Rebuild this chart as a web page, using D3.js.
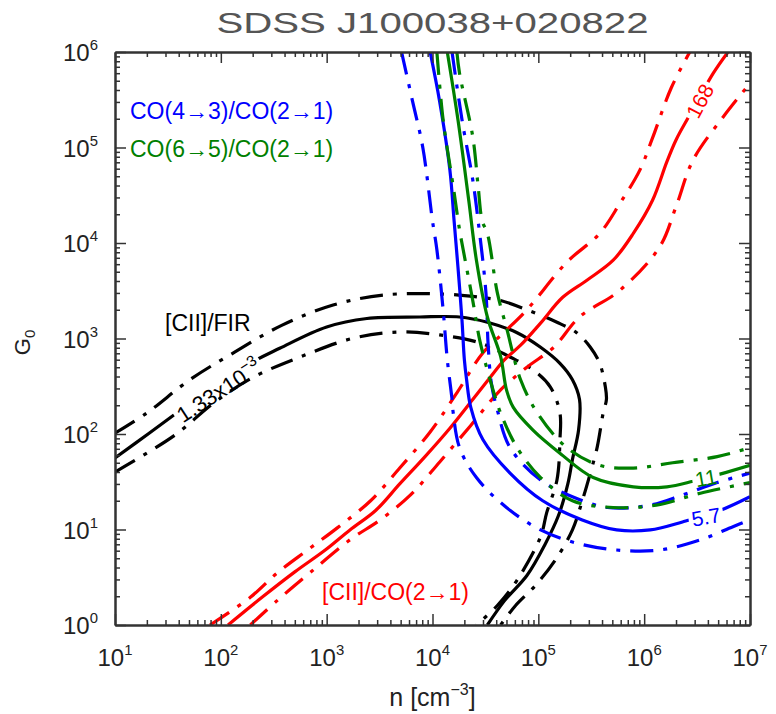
<!DOCTYPE html>
<html><head><meta charset="utf-8">
<script src="https://cdn.jsdelivr.net/npm/d3@7"></script>
<style>
body{margin:0;background:#fff}
svg{display:block}
text{font-family:"Liberation Sans",Arial,"DejaVu Sans",sans-serif}
</style>
</head><body>
<svg id="c" width="776" height="714"></svg>
<script>
// ---------- data ----------
const chartTitle = "SDSS J100038+020822";
const xTickValues = [1e1, 1e2, 1e3, 1e4, 1e5, 1e6, 1e7];
const xTickExponents = ["1", "2", "3", "4", "5", "6", "7"];
const yTickValues = [1e0, 1e1, 1e2, 1e3, 1e4, 1e5, 1e6];
const yTickExponents = ["0", "1", "2", "3", "4", "5", "6"];

// [CII]/FIR = 1.33e-3 contour (mid) and its +/- bounds : [n, G0]
const ciiFirMid = [[10,56],[21,102],[48,200],[130,440],[360,790],[1000,1320],[2400,1620],[7600,1680],[1.8e4,1680],[3.3e4,1480],[6.3e4,1150],[1.05e5,810],[1.6e5,550],[2.1e5,370],[2.45e5,230],[2.4e5,110],[2.1e5,54],[1.9e5,30],[1.55e5,14],[1.15e5,6.9],[7.8e4,3.3],[4.8e4,1.8],[3.3e4,1.0]];
const ciiFirHigh = [[10,102],[20,166],[51,370],[135,720],[380,1380],[1150,2240],[3400,2850],[1.25e4,2920],[2.8e4,2700],[4.4e4,2500],[7.8e4,2000],[1.5e5,1480],[2.3e5,1150],[3.1e5,810],[3.8e5,550],[4.3e5,310],[4.4e5,230],[4.1e5,166],[3.6e5,73],[3.1e5,39],[2.6e5,20],[2.1e5,9.9],[1.45e5,4.8],[9.4e4,2.6],[6.1e4,1.6],[4.4e4,1.0]];
const ciiFirLow = [[10,40],[20,63],[39,102],[85,210],[200,390],[560,640],[1800,1010],[4900,1170],[1.17e4,1090],[2.8e4,900],[5.4e4,640],[8.9e4,470],[1.3e5,310],[1.6e5,166],[1.6e5,87],[1.5e5,33],[1.2e5,15],[1.05e5,8.4],[6.3e4,2.95],[4.1e4,1.6],[2.6e4,1.0]];

// [CII]/CO(2-1) = 168
const ciiCoMid = [[117,1],[245,1.95],[500,3.6],[970,6.1],[1660,9.9],[2900,15.8],[4900,30],[8500,58],[1.46e4,115],[2.4e4,230],[3.5e4,390],[4.8e4,600],[6.8e4,850],[1.05e5,1450],[1.7e5,2700],[2.9e5,4100],[5.1e5,6600],[7.9e5,1.26e4],[1.2e6,2.8e4],[1.64e6,7.1e4],[2.0e6,1.2e5],[2.7e6,2.2e5],[4.5e6,6.0e5],[6.2e6,1e6]];
const ciiCoHigh = [[79,1],[190,1.95],[340,3.5],[660,6.1],[1260,10.4],[2600,20],[4900,44],[9500,105],[1.7e4,270],[3.0e4,710],[4.7e4,1150],[7.8e4,2000],[1.86e5,6300],[3.8e5,1.26e4],[5.9e5,2.6e4],[9.1e5,5.8e4],[1.2e6,1.26e5],[1.8e6,4.2e5],[2.7e6,1e6]];
const ciiCoLow = [[190,1],[340,1.8],[690,3.5],[1660,7.8],[3200,12.6],[6200,23],[1.17e4,51],[2.3e4,123],[4.4e4,290],[7.8e4,500],[1.4e5,810],[2.45e5,1680],[5.9e5,3200],[1.4e6,9100],[2.0e6,2.4e4],[2.9e6,7.4e4],[5.6e6,2.1e5],[1e7,4.7e5]];

// CO(4-3)/CO(2-1) = 5.7
const co43Mid = [[9500,1e6],[1.17e4,3.0e5],[1.46e4,5.8e4],[1.6e4,1.7e4],[1.74e4,5600],[1.9e4,1550],[2.0e4,600],[2.1e4,370],[2.3e4,190],[3.0e4,87],[5.4e4,39],[1.1e5,20],[2.6e5,12.6],[5.5e5,9.9],[1.14e6,9.9],[2.3e6,12],[5.2e6,15.8],[1e7,22]];
const co43Low = [[5100,1e6],[6500,3.0e5],[8100,1.0e5],[1.0e4,1.7e4],[1.1e4,8500],[1.26e4,2000],[1.38e4,600],[1.53e4,230],[1.57e4,166],[1.8e4,72],[2.6e4,35],[5.0e4,17],[1.05e5,9.9],[2.3e5,7.2],[5.5e5,6.1],[1.4e6,6.1],[3.4e6,7.8],[6.9e6,10.7],[1e7,12.6]];
const co43High = [[1.53e4,1e6],[1.9e4,1.95e5],[2.4e4,4.6e4],[2.7e4,1.7e4],[3.2e4,3000],[3.35e4,890],[3.6e4,340],[4.1e4,178],[5.4e4,72],[1.05e5,33],[2.1e5,22],[4.5e5,17],[1.14e6,18],[2.3e6,23],[4.9e6,31],[1e7,39]];

// CO(6-5)/CO(2-1) = 11
const co65Mid = [[1.38e4,1e6],[1.74e4,1.95e5],[2.2e4,2.8e4],[2.6e4,6600],[3.3e4,1680],[4.4e4,650],[5.0e4,290],[5.8e4,190],[8.9e4,110],[1.6e5,63],[3.3e5,35],[7.9e5,28],[1.64e6,28],[2.9e6,32],[5.2e6,38],[1e7,47]];
const co65Low = [[1.1e4,1e6],[1.26e4,1.95e5],[1.57e4,3.9e4],[1.8e4,1.38e4],[1.95e4,8500],[2.4e4,2500],[2.8e4,950],[3.5e4,370],[4.4e4,166],[6.3e4,72],[1.05e5,35],[2.1e5,20],[5.1e5,17],[1.3e6,18],[3.4e6,24],[1e7,31]];
const co65High = [[1.7e4,1e6],[1.8e4,6.0e5],[2.4e4,1.3e5],[2.7e4,3.9e4],[2.95e4,1.7e4],[3.3e4,1.26e4],[4.1e4,3000],[5.0e4,1300],[6.8e4,370],[9.8e4,166],[1.86e5,72],[3.8e5,47],[7.9e5,44],[1.86e6,50],[4.9e6,58],[1e7,72]];

const labelCiiFir = "1.33x10";
const labelCiiFirExp = "\u22123";
const labelCiiCo = "168";
const labelCo43 = "5.7";
const labelCo65 = "11";

// ---------- setup ----------
const W = 776, H = 714;
const P = {left: 115, right: 750, top: 52, bottom: 625};
const RED = "#ff0000", BLUE = "#0000ff", GREEN = "#008000", BLACK = "#000000";
const DASHDOT = "23,10,4,10";

const svg = d3.select("#c");
svg.append("rect").attr("width", W).attr("height", H).attr("fill", "#fff");
const defs = svg.append("defs");
defs.append("clipPath").attr("id", "plotclip").append("rect")
  .attr("x", P.left).attr("y", P.top).attr("width", P.right - P.left).attr("height", P.bottom - P.top);

const x = d3.scaleLog().domain([1e1, 1e7]).range([P.left, P.right]);
const y = d3.scaleLog().domain([1e0, 1e6]).range([P.bottom, P.top]);

const gLines = svg.append("g").attr("clip-path", "url(#plotclip)");
const gAxes = svg.append("g");
const gText = svg.append("g");

// ---------- contour labels (drawn first to compute gaps) ----------
function contourLabel(id, txt, sup, color, cx, cy, angle, size) {
  const t = gText.append("text")
    .attr("transform", `translate(${cx},${cy}) rotate(${angle})`)
    .attr("text-anchor", "middle").attr("dy", "0.35em")
    .attr("fill", color).attr("font-size", size);
  t.append("tspan").text(txt);
  if (sup) t.append("tspan").attr("font-size", size * 0.7).attr("dy", -size * 0.45).text(sup);
  const bb = t.node().getBBox();
  const m = defs.append("mask").attr("id", id).attr("maskUnits", "userSpaceOnUse")
    .attr("x", 0).attr("y", 0).attr("width", W).attr("height", H);
  m.append("rect").attr("width", W).attr("height", H).attr("fill", "white");
  m.append("rect").attr("transform", `translate(${cx},${cy}) rotate(${angle})`)
    .attr("x", bb.x - 3).attr("y", bb.y + 1).attr("width", bb.width + 6).attr("height", bb.height - 2)
    .attr("fill", "black");
  return `url(#${id})`;
}
const mFir = contourLabel("mFir", labelCiiFir, labelCiiFirExp, BLACK, 219, 391, -33, 22);
const mCo = contourLabel("mCo", labelCiiCo, null, RED, 700, 101, -62, 21);
const m65 = contourLabel("m65", labelCo65, null, GREEN, 706, 478, -10, 21);
const m43 = contourLabel("m43", labelCo43, null, BLUE, 706, 517, -10, 21);

// ---------- lines ----------
const line = d3.line().x(d => x(d[0])).y(d => y(d[1])).curve(d3.curveCatmullRom.alpha(0.5));
const series = [
  {d: ciiFirHigh, c: BLACK, dash: DASHDOT},
  {d: ciiFirLow, c: BLACK, dash: DASHDOT},
  {d: ciiFirMid, c: BLACK, dash: null, mask: mFir},
  {d: ciiCoHigh, c: RED, dash: DASHDOT},
  {d: ciiCoLow, c: RED, dash: DASHDOT},
  {d: ciiCoMid, c: RED, dash: null, mask: mCo},
  {d: co43Low, c: BLUE, dash: DASHDOT},
  {d: co43High, c: BLUE, dash: DASHDOT},
  {d: co43Mid, c: BLUE, dash: null, mask: m43},
  {d: co65Low, c: GREEN, dash: DASHDOT},
  {d: co65High, c: GREEN, dash: DASHDOT},
  {d: co65Mid, c: GREEN, dash: null, mask: m65}
];
series.forEach(s => {
  const p = gLines.append("path").attr("d", line(s.d)).attr("fill", "none")
    .attr("stroke", s.c).attr("stroke-width", 3.2).attr("stroke-linejoin", "round");
  if (s.dash) p.attr("stroke-dasharray", s.dash);
  if (s.mask) p.attr("mask", s.mask);
});

// ---------- axes ----------
function minorTicks(majors) {
  const out = [];
  majors.slice(0, -1).forEach(v => d3.range(2, 10).forEach(k => out.push(k * v)));
  return out;
}
const xMinor = minorTicks(xTickValues), yMinor = minorTicks(yTickValues);
function styleAxis(g) {
  g.select(".domain").attr("stroke", "#333").attr("stroke-width", 2);
  g.selectAll(".tick line").attr("stroke", "#333").attr("stroke-width", 1.5);
}
const axes = [
  [d3.axisBottom, x, `translate(0,${P.bottom})`],
  [d3.axisTop, x, `translate(0,${P.top})`],
  [d3.axisLeft, y, `translate(${P.left},0)`],
  [d3.axisRight, y, `translate(${P.right},0)`]
];
axes.forEach(([fn, sc, tr]) => {
  const majors = sc === x ? xTickValues : yTickValues;
  const minors = sc === x ? xMinor : yMinor;
  gAxes.append("g").attr("transform", tr)
    .call(fn(sc).tickValues(minors).tickSize(-5).tickSizeOuter(0).tickFormat(""))
    .call(styleAxis);
  gAxes.append("g").attr("transform", tr)
    .call(fn(sc).tickValues(majors).tickSize(-11).tickSizeOuter(0).tickFormat(""))
    .call(styleAxis);
});

// tick labels
const TL = 24;
xTickValues.forEach((v, i) => {
  const t = gText.append("text").attr("x", x(v)).attr("y", P.bottom + 41)
    .attr("text-anchor", "middle").attr("fill", "#222").attr("font-size", TL);
  t.append("tspan").text("10");
  t.append("tspan").attr("font-size", TL * 0.62).attr("dy", -11).text(xTickExponents[i]);
});
yTickValues.forEach((v, i) => {
  const t = gText.append("text").attr("x", P.left - 17).attr("y", y(v) + 9)
    .attr("text-anchor", "end").attr("fill", "#222").attr("font-size", TL);
  t.append("tspan").text("10");
  t.append("tspan").attr("font-size", TL * 0.62).attr("dy", -11).text(yTickExponents[i]);
});

// title
gText.append("text").attr("x", (P.left + P.right) / 2).attr("y", 33)
  .attr("text-anchor", "middle").attr("fill", "#555").attr("font-size", 30)
  .attr("textLength", 432).attr("lengthAdjust", "spacingAndGlyphs").text(chartTitle);

// axis titles
const xt = gText.append("text").attr("x", (P.left + P.right) / 2).attr("y", 706)
  .attr("text-anchor", "middle").attr("fill", "#222").attr("font-size", 25);
xt.append("tspan").text("n [cm");
xt.append("tspan").attr("font-size", 16).attr("dy", -11).text("\u22123");
xt.append("tspan").attr("dy", 11).text("]");

const yt = gText.append("text").attr("transform", `translate(30,${(P.top + P.bottom) / 2 + 4}) rotate(-90)`)
  .attr("text-anchor", "middle").attr("fill", "#222").attr("font-size", 22);
yt.append("tspan").text("G");
yt.append("tspan").attr("font-size", 15).attr("dy", 5).text("0");

// series labels
gText.append("text").attr("x", 130).attr("y", 119).attr("fill", BLUE).attr("font-size", 23)
  .text("CO(4\u21923)/CO(2\u21921)");
gText.append("text").attr("x", 130).attr("y", 157).attr("fill", GREEN).attr("font-size", 23)
  .text("CO(6\u21925)/CO(2\u21921)");
gText.append("text").attr("x", 165).attr("y", 331).attr("fill", BLACK).attr("font-size", 23)
  .text("[CII]/FIR");
gText.append("text").attr("x", 322).attr("y", 600).attr("fill", RED).attr("font-size", 23)
  .text("[CII]/CO(2\u21921)");
</script>
</body></html>
